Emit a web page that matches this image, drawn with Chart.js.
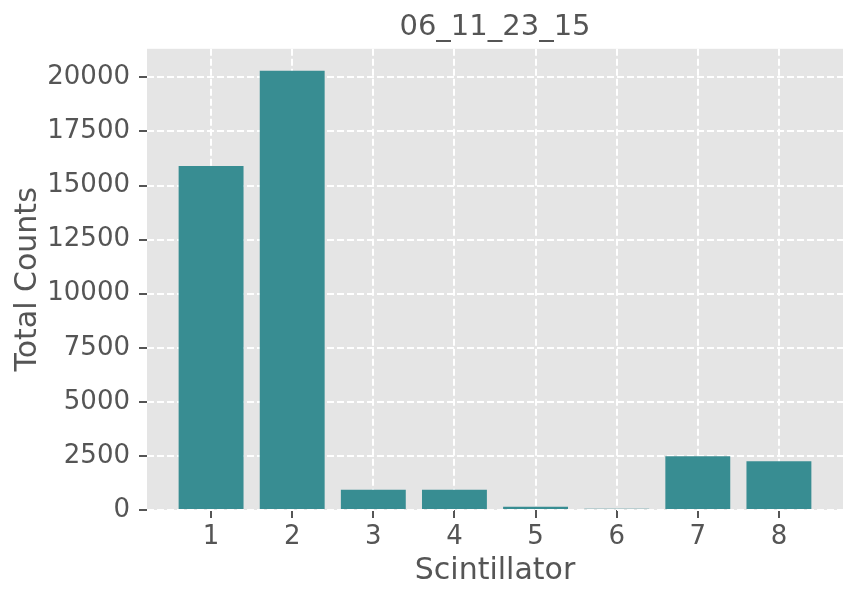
<!DOCTYPE html>
<html>
<head>
<meta charset="utf-8">
<script src="https://cdn.jsdelivr.net/npm/chart.js"></script>
<style>
  html, body { margin: 0; padding: 0; background: #fff; }
</style>
</head>
<body>
<canvas id="chart" width="858" height="601"></canvas>
<script>
// scintillator number and total counts
const scintillators = [1, 2, 3, 4, 5, 6, 7, 8];
const totalCounts = [15905, 20310, 940, 940, 150, 60, 2485, 2250];
const yTicks = [0, 2500, 5000, 7500, 10000, 12500, 15000, 17500, 20000];

const TEXT = "#555555";
const FONT = "'DejaVu Sans'";

// grey plot background like ggplot style
const panelBg = {
  id: "panelBg",
  beforeDraw(chart) {
    const { ctx, chartArea: a } = chart;
    ctx.save();
    ctx.fillStyle = "#E5E5E5";
    ctx.fillRect(a.left, a.top, a.right - a.left, a.bottom - a.top);
    ctx.restore();
  }
};

new Chart(document.getElementById("chart"), {
  type: "bar",
  data: {
    datasets: [{
      data: scintillators.map((s, i) => ({ x: s, y: totalCounts[i] })),
      backgroundColor: "#388D92",
      borderWidth: 0,
      categoryPercentage: 1,
      barPercentage: 0.8
    }]
  },
  options: {
    responsive: false,
    animation: false,
    devicePixelRatio: 1,
    layout: { padding: { left: 0, right: 15, top: 0, bottom: 0 } },
    plugins: {
      legend: { display: false },
      tooltip: { enabled: false },
      title: {
        display: true,
        text: "06_11_23_15",
        fullSize: false,
        color: TEXT,
        font: { family: FONT, size: 29, weight: "normal" },
        padding: { top: 10, bottom: 4 }
      }
    },
    scales: {
      x: {
        type: "linear",
        offset: false,
        min: 0.21,
        max: 8.79,
        afterBuildTicks: s => { s.ticks = scintillators.map(v => ({ value: v })); },
        afterFit: s => { s.height = 91; },
        ticks: {
          color: TEXT,
          padding: 4,
          font: { family: FONT, size: 26 }
        },
        grid: {
          offset: false,
          color: "#ffffff",
          lineWidth: 2,
          tickColor: TEXT,
          tickLength: 8,
          tickWidth: 2
        },
        border: { display: false, dash: [7, 3] },
        title: {
          display: true,
          text: "Scintillator",
          color: TEXT,
          font: { family: FONT, size: 30 },
          padding: { top: 4, bottom: 12 }
        }
      },
      y: {
        min: 0,
        max: 21322,
        afterBuildTicks: s => { s.ticks = yTicks.map(v => ({ value: v })); },
        afterFit: s => { s.width = 147; },
        ticks: {
          color: TEXT,
          padding: 9,
          font: { family: FONT, size: 26 },
          callback: v => String(v)
        },
        grid: {
          color: "#ffffff",
          lineWidth: 2,
          tickColor: TEXT,
          tickLength: 8,
          tickWidth: 2
        },
        border: { display: false, dash: [7, 3] },
        title: {
          display: true,
          text: "Total Counts",
          color: TEXT,
          font: { family: FONT, size: 30 },
          padding: { top: 10, bottom: 4 }
        }
      }
    }
  },
  plugins: [panelBg]
});
</script>
</body>
</html>
